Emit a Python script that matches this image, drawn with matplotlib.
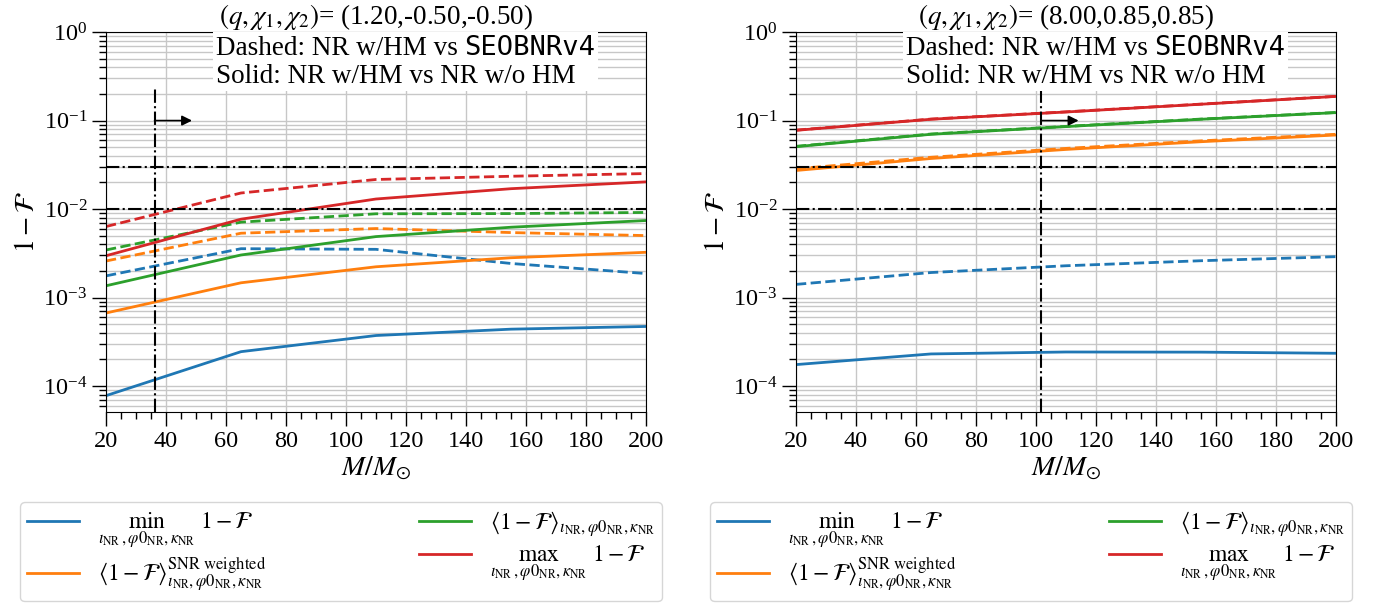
import matplotlib
matplotlib.use('Agg')
import matplotlib.pyplot as plt
from matplotlib.ticker import MultipleLocator, LogLocator, NullFormatter
from matplotlib.offsetbox import TextArea, HPacker, VPacker, AnchoredOffsetbox

plt.rcParams['font.family'] = 'serif'
plt.rcParams['font.serif'] = ['Liberation Serif', 'DejaVu Serif']
plt.rcParams['mathtext.fontset'] = 'stix'

masses = [20, 65, 110, 155, 200]

# left panel: (q, chi1, chi2) = (1.2, -0.5, -0.5)
left_title = r'$(q,\chi_1,\chi_2)$= (1.20,-0.50,-0.50)'
left_solid_min = [7.8e-5, 2.45e-4, 3.73e-4, 4.40e-4, 4.72e-4]
left_solid_snr = [6.7e-4, 1.47e-3, 2.23e-3, 2.82e-3, 3.25e-3]
left_solid_mean = [1.36e-3, 3.03e-3, 4.89e-3, 6.24e-3, 7.43e-3]
left_solid_max = [2.97e-3, 7.69e-3, 1.30e-2, 1.70e-2, 2.03e-2]
left_dashed_min = [1.76e-3, 3.57e-3, 3.51e-3, 2.43e-3, 1.87e-3]
left_dashed_snr = [2.59e-3, 5.34e-3, 6.03e-3, 5.43e-3, 5.02e-3]
left_dashed_mean = [3.45e-3, 7.12e-3, 8.85e-3, 8.90e-3, 9.16e-3]
left_dashed_max = [6.35e-3, 1.52e-2, 2.16e-2, 2.35e-2, 2.52e-2]
left_cut = 36.2

# right panel: (q, chi1, chi2) = (8, 0.85, 0.85)
right_title = r'$(q,\chi_1,\chi_2)$= (8.00,0.85,0.85)'
right_solid_min = [1.75e-4, 2.31e-4, 2.43e-4, 2.42e-4, 2.35e-4]
right_solid_snr = [2.73e-2, 3.73e-2, 4.72e-2, 5.77e-2, 6.87e-2]
right_solid_mean = [5.07e-2, 7.00e-2, 8.55e-2, 1.035e-1, 1.23e-1]
right_solid_max = [7.76e-2, 1.035e-1, 1.25e-1, 1.53e-1, 1.875e-1]
right_dashed_min = [1.41e-3, 1.92e-3, 2.29e-3, 2.61e-3, 2.90e-3]
right_dashed_snr = [2.85e-2, 3.85e-2, 4.85e-2, 5.90e-2, 7.0e-2]
right_dashed_mean = [5.12e-2, 7.05e-2, 8.60e-2, 1.04e-1, 1.235e-1]
right_dashed_max = [7.80e-2, 1.04e-1, 1.255e-1, 1.535e-1, 1.88e-1]
right_cut = 101.7

thresholds = [0.03, 0.01]
colors = ['tab:blue', 'tab:orange', 'tab:green', 'tab:red']
sub = r'{\iota_{\rm NR},\varphi0_{\rm NR},\kappa_{\rm NR}}'
labels = [r'$\min_' + sub + r'\ 1-\mathcal{F}$',
          r'$\langle 1-\mathcal{F}\rangle^{\rm SNR\ weighted}_' + sub + '$',
          r'$\langle 1-\mathcal{F}\rangle_' + sub + '$',
          r'$\max_' + sub + r'\ 1-\mathcal{F}$']

fig = plt.figure(figsize=(13.8, 6.05), dpi=100)
ax1 = fig.add_axes([0.0768, 0.319, 0.3913, 0.628])
ax2 = fig.add_axes([0.5768, 0.319, 0.3913, 0.628])

panels = [
    (ax1, left_title, [left_solid_min, left_solid_snr, left_solid_mean, left_solid_max],
     [left_dashed_min, left_dashed_snr, left_dashed_mean, left_dashed_max], left_cut),
    (ax2, right_title, [right_solid_min, right_solid_snr, right_solid_mean, right_solid_max],
     [right_dashed_min, right_dashed_snr, right_dashed_mean, right_dashed_max], right_cut),
]

for ax, title, solid, dashed, cut in panels:
    handles = []
    for i in range(4):
        h, = ax.plot(masses, solid[i], color=colors[i], lw=2, label=labels[i])
        ax.plot(masses, dashed[i], color=colors[i], lw=2, ls='--')
        handles.append(h)
    for t in thresholds:
        ax.axhline(t, color='k', ls='-.', lw=1.5)
    ax.axvline(cut, ymax=0.85, color='k', ls='-.', lw=1.5)
    ax.annotate('', xy=(cut + 12.5, 0.1), xytext=(cut, 0.1),
                arrowprops=dict(arrowstyle='-|>', color='k', lw=1.2,
                                mutation_scale=15, shrinkA=0, shrinkB=0))

    ax.set_yscale('log')
    ax.set_xlim(20, 200)
    ax.set_ylim(5.1e-5, 1)
    ax.xaxis.set_major_locator(MultipleLocator(20))
    ax.xaxis.set_minor_locator(MultipleLocator(5))
    ax.yaxis.set_major_locator(LogLocator(base=10, numticks=10))
    ax.yaxis.set_minor_locator(LogLocator(base=10, subs=range(2, 10), numticks=20))
    ax.yaxis.set_minor_formatter(NullFormatter())
    ax.tick_params(which='major', direction='out', length=10, width=1, labelsize=17.5)
    ax.tick_params(which='minor', direction='out', length=5, width=1)
    ax.grid(True, which='major', color='0.78', lw=1)
    ax.grid(True, which='minor', axis='y', color='0.78', lw=1)
    ax.set_axisbelow(True)

    ax.set_title(title, fontsize=19.5, pad=3)
    ax.set_xlabel(r'$M/M_{\odot}$', fontsize=20, labelpad=2)
    ax.set_ylabel(r'$1-\mathcal{F}$', fontsize=20, labelpad=2)

    # text box with the line style explanation
    line1 = HPacker(children=[TextArea('Dashed: NR w/HM vs ', textprops=dict(fontsize=19.5)),
                              TextArea('SEOBNRv4', textprops=dict(fontsize=19.5, family='DejaVu Sans Mono'))],
                    align='baseline', pad=0, sep=0)
    line2 = TextArea('Solid: NR w/HM vs NR w/o HM', textprops=dict(fontsize=19.5))
    box = VPacker(children=[line1, line2], align='left', pad=0, sep=2)
    anchored = AnchoredOffsetbox(loc='upper left', child=box, pad=0.2, borderpad=0,
                                 bbox_to_anchor=(0.198, 1.0), bbox_transform=ax.transAxes,
                                 frameon=True)
    anchored.patch.set_facecolor('white')
    anchored.patch.set_edgecolor('none')
    anchored.set_zorder(5)
    ax.add_artist(anchored)

    ax.legend(handles=handles, ncol=2, loc='upper left', mode='expand',
              bbox_to_anchor=(-0.159, -0.237, 1.189, 0), borderaxespad=0,
              fontsize=17, handlelength=2.2, labelspacing=0.2, borderpad=0.3,
              framealpha=0.8)

fig.savefig('out.png', dpi=100)
